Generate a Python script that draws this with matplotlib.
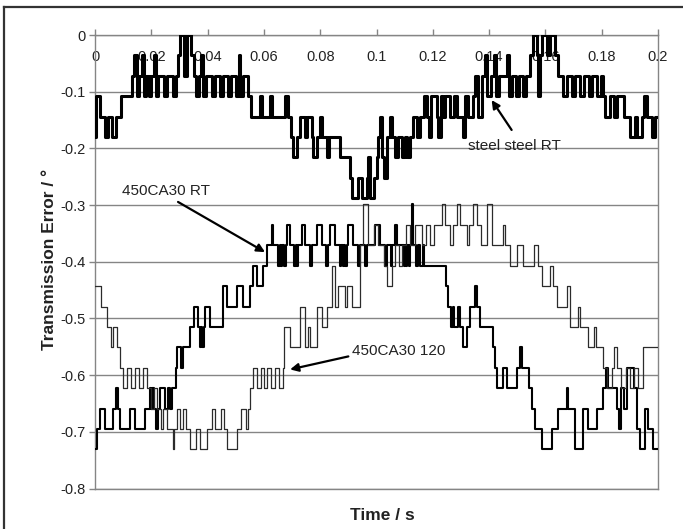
import numpy as np
import matplotlib
matplotlib.use("Agg")
import matplotlib.pyplot as plt
from matplotlib.lines import Line2D

plt.rcParams['font.family'] = ['Liberation Sans', 'DejaVu Sans']

# encoder step (deg) and level offset of the 450CA30 traces
STEP = 0.036
OFFS = -0.335

# steel steel RT : switch times (ms) and level counts below 0
steel_t = [0, 0.3, 1.8, 3.5, 4.7, 5.9, 7.6, 9.4, 13.0, 13.8, 14.8, 15.6, 16.6, 17.4, 18.2, 19.3,
           20.0, 20.9, 21.5, 22.3, 24.6, 25.6, 27.6, 28.6, 29.6, 30.3, 31.6, 32.6, 34.0, 35.0, 35.8,
           37.0, 37.8, 38.5, 39.5, 41.5, 42.5, 44.5, 45.5, 47.2, 48.2, 50.0, 51.0, 51.6, 52.6, 54.5,
           55.5, 58.5, 59.5, 62.0, 63.0, 67.5, 68.5, 69.7, 70.4, 71.6, 72.8, 74.6, 75.2, 77.0, 77.6,
           78.8, 79.9, 80.8, 82.5, 83.2, 87.0, 90.6, 91.2, 93.6, 94.8, 96.5, 97.1, 97.8, 99.0, 100.1,
           100.7, 101.3, 101.9, 102.5, 103.6, 104.8, 105.4, 106.6, 107.8, 109.0, 110.0, 111.0, 112.0,
           113.1, 114.5, 115.5, 116.8, 118.0, 118.6, 119.4, 121.4, 121.8, 122.8, 123.6, 124.5, 126.2,
           127.4, 128.5, 130.7, 131.6, 132.4, 133.2, 134.4, 135.0, 136.2, 137.4, 138.5, 139.3, 140.6,
           141.8, 142.4, 143.6, 146.3, 147.0, 148.2, 149.4, 150.6, 152.0, 153.0, 154.5, 155.7, 156.9,
           157.5, 158.0, 158.7, 160.5, 161.7, 163.4, 164.6, 166.4, 167.6, 169.4, 170.6, 172.4, 173.6,
           175.4, 176.6, 178.4, 179.6, 180.6, 181.2, 183.0, 184.2, 185.4, 187.8, 190.1, 191.9, 192.5,
           194.3, 194.9, 196.0, 197.8, 199.0, 200.0]
steel_k = [5, 3, 4, 5, 4, 5, 4, 3, 2, 1, 3, 2, 1, 3, 2, 3,
           2, 1, 3, 2, 3, 2, 3, 2, 1, 0, 2, 0, 1, 2, 3,
           2, 1, 3, 2, 3, 2, 3, 2, 3, 2, 3, 1, 3, 2, 3,
           4, 3, 4, 3, 4, 3, 4, 5, 6, 5, 4, 5, 4, 5, 6,
           5, 4, 5, 6, 5, 6, 7, 8, 7, 8, 7, 6, 8, 7, 6,
           5, 4, 6, 7, 5, 4, 5, 6, 5, 6, 5, 6, 5,
           4, 5, 4, 3, 4, 5, 3, 4, 5, 3, 4, 3, 4,
           3, 4, 5, 3, 4, 4, 3, 2, 4, 2, 1, 3, 2,
           1, 3, 2, 1, 3, 2, 3, 2, 3, 2, 1, 0, 1,
           3, 1, 0, 1, 0, 1, 2, 3, 2, 3, 2, 3, 2,
           3, 2, 3, 2, 3, 4, 3, 4, 3, 4, 5, 4, 5,
           4, 3, 4, 5, 4, 4]

# 450CA30 RT
rt_t = [0, 0.6, 1.8, 3.6, 6.5, 7.3, 8.3, 8.9, 12.4, 14.2, 17.8, 19.4, 19.9, 20.4, 21.0, 21.6,
        22.4, 23.2, 24.7, 25.8, 26.5, 27.2, 28.6, 29.0, 30.6, 31.4, 33.7, 35.0, 36.7, 37.2, 37.7,
        38.1, 38.6, 39.1, 40.9, 45.6, 46.8, 50.3, 52.7, 55.1, 56.2, 57.4, 59.8, 61.0, 62.8, 63.4,
        65.1, 65.6, 66.1, 66.6, 67.2, 67.8, 68.2, 69.3, 70.8, 71.3, 71.7, 72.2, 73.4, 74.6, 76.5,
        77.1, 78.8, 80.6, 82.0, 82.6, 83.5, 85.3, 87.0, 87.4, 88.0, 88.4, 88.8, 89.4, 90.0, 91.8,
        93.5, 94.0, 96.0, 96.6, 99.5, 101.3, 103.0, 103.6, 105.0, 105.5, 106.5, 107.3, 109.6, 110.0,
        110.5, 110.9, 111.4, 112.0, 112.5, 113.0, 114.0, 114.6, 115.6, 116.4, 117.0, 124.8, 125.4,
        126.6, 127.0, 127.4, 128.9, 129.5, 130.8, 132.0, 133.2, 135.0, 135.6, 136.8, 141.5, 142.1,
        142.7, 145.1, 146.3, 149.8, 151.0, 151.6, 154.0, 155.1, 156.3, 158.7, 162.2, 164.6, 167.5,
        168.1, 170.5, 173.5, 175.0, 178.2, 180.6, 181.4, 182.2, 185.4, 186.2, 186.8, 188.0, 189.0,
        191.3, 192.5, 193.7, 195.4, 196.6, 198.4, 200.0]
rt_m = [11, 10, 9, 10, 9, 8, 9, 10, 9, 10, 9, 8, 9, 8, 9, 10,
        9, 8, 9, 8, 9, 8, 7, 6, 7, 6, 5, 4, 5, 6, 5,
        6, 5, 4, 5, 3, 4, 3, 4, 3, 2, 3, 2, 1, 0, 1,
        2, 1, 2, 1, 2, 1, 0, 1, 2, 1, 2, 1, 0, 1, 2,
        1, 0, 1, 2, 1, 0, 1, 2, 1, 2, 1, 2, 1, 0, 1,
        2, 1, 2, 1, 0, 1, 2, 1, 2, 1, 0, 1, 2, 1,
        2, 1, 2, 1, -1, 1, 2, 1, 2, 1, 2, 3, 4,
        5, 4, 5, 4, 5, 6, 5, 4, 3, 4, 5, 6, 7,
        8, 7, 8, 7, 6, 7, 8, 9, 10, 11, 10, 9, 8,
        9, 11, 9, 10, 9, 8, 7, 8, 9, 10, 8, 9, 7,
        8, 10, 11, 9, 10, 11, 11]

# 450CA30 120
hot_t = [0, 2.3, 4.2, 5.8, 6.5, 7.7, 8.9, 10.1, 11.4, 12.8, 14.2, 15.6, 17.2, 18.6, 19.8, 21.0,
         22.0, 23.3, 24.3, 25.4, 27.6, 28.2, 29.2, 30.2, 31.4, 32.4, 33.6, 36.0, 37.4, 39.8, 41.5,
         42.8, 44.8, 46.0, 46.8, 50.3, 51.8, 53.6, 54.2, 54.9, 56.0, 57.4, 59.0, 60.2, 61.2, 62.6,
         64.0, 65.2, 66.8, 67.3, 69.3, 72.8, 74.6, 75.8, 76.4, 78.8, 80.6, 82.3, 84.1, 85.3, 86.5,
         88.9, 89.5, 91.2, 94.2, 95.3, 97.1, 99.0, 100.6, 102.5, 103.6, 105.4, 106.6, 108.0, 109.0,
         110.5, 111.8, 113.7, 116.0, 117.5, 119.0, 120.5, 123.1, 124.3, 126.0, 127.0, 128.5, 129.7,
         132.0, 133.0, 134.4, 135.6, 137.0, 139.1, 140.9, 145.1, 145.8, 147.4, 149.9, 152.2, 155.8,
         157.5, 158.7, 161.7, 162.8, 164.0, 167.6, 168.8, 171.7, 172.3, 175.3, 177.1, 178.0, 180.6,
         182.0, 183.6, 184.4, 185.4, 187.0, 188.5, 190.1, 191.5, 193.0, 194.8, 200.0]
hot_m = [3, 4, 5, 6, 5, 6, 7, 8, 7, 8, 7, 8, 7, 8, 9, 8,
         9, 10, 9, 10, 11, 10, 9, 10, 9, 10, 11, 10, 11, 10, 9,
         10, 9, 10, 11, 10, 9, 10, 9, 8, 7, 8, 7, 8, 7, 8,
         7, 8, 7, 5, 6, 4, 6, 5, 6, 4, 5, 4, 2, 4, 3,
         4, 3, 4, 1, -1, 1, 0, 1, 2, 3, 2, 1, 2, 1,
         0, 1, 0, 1, 0, 1, 0, -1, 0, 1, 0, -1, 0,
         1, 0, -1, 0, 1, -1, 1, 0, 1, 2, 1, 2, 1,
         2, 3, 2, 3, 4, 3, 5, 4, 5, 6, 5, 6, 7,
         8, 7, 6, 7, 8, 7, 8, 7, 8, 6, 6]

xticks = [0, 0.02, 0.04, 0.06, 0.08, 0.1, 0.12, 0.14, 0.16, 0.18, 0.2]
xticklabels = ['0', '0.02', '0.04', '0.06', '0.08', '0.1', '0.12', '0.14', '0.16', '0.18', '0.2']
yticks = [-0.8, -0.7, -0.6, -0.5, -0.4, -0.3, -0.2, -0.1, 0]
yticklabels = ['-0.8', '-0.7', '-0.6', '-0.5', '-0.4', '-0.3', '-0.2', '-0.1', '0']

steel_x = np.array(steel_t) / 1000
steel_y = -STEP * np.array(steel_k)
rt_x = np.array(rt_t) / 1000
rt_y = OFFS - STEP * np.array(rt_m)
hot_x = np.array(hot_t) / 1000
hot_y = OFFS - STEP * np.array(hot_m)

fig = plt.figure(figsize=(6.83, 5.29), dpi=100)
ax = fig.add_axes([95 / 683, 40.5 / 529, 563 / 683, 453.5 / 529])

gray = '#858585'
ax.step(steel_x, steel_y, where='post', color='black', lw=2.2, zorder=3)
ax.step(rt_x, rt_y, where='post', color='black', lw=1.5, zorder=4)
ax.step(hot_x, hot_y, where='post', color='#2b2b2b', lw=0.9, zorder=5)

ax.set_xlim(0, 0.2)
ax.set_ylim(-0.8, 0)
ax.set_xticks(xticks)
ax.set_xticklabels(xticklabels)
ax.set_yticks(yticks)
ax.set_yticklabels(yticklabels)
ax.yaxis.grid(True, color=gray, lw=1.0)
ax.set_axisbelow(True)
for s in ax.spines.values():
    s.set_color(gray)
    s.set_linewidth(1.0)

ax.xaxis.set_ticks_position('top')
ax.tick_params(axis='x', direction='out', length=4, width=1, color=gray,
               labeltop=True, labelbottom=False, pad=-25, labelsize=10.5, labelcolor='#222222')
ax.tick_params(axis='y', direction='out', length=4, width=1, color=gray,
               pad=3, labelsize=10.5, labelcolor='#222222')

ax.set_ylabel('Transmission Error / \u00b0', fontsize=12.5, fontweight='bold', color='#222222')
ax.yaxis.set_label_coords(-0.068, 0.504)
ax.set_xlabel('Time / s', fontsize=12.5, fontweight='bold', color='#222222')
ax.xaxis.set_label_coords(0.51, -0.043)

arrow = dict(arrowstyle='-|>', color='black', lw=1.6, mutation_scale=12, shrinkA=0, shrinkB=0)
ax.annotate('', xy=(0.1409, -0.1148), xytext=(0.1480, -0.1675), arrowprops=arrow, zorder=6)
ax.text(0.1325, -0.196, 'steel steel RT', fontsize=11, color='#222222', ha='left', va='center')
ax.annotate('', xy=(0.0604, -0.383), xytext=(0.0295, -0.2945), arrowprops=arrow, zorder=6)
ax.text(0.0096, -0.2756, '450CA30 RT', fontsize=11, color='#222222', ha='left', va='center')
ax.annotate('', xy=(0.0693, -0.590), xytext=(0.090, -0.567), arrowprops=arrow, zorder=6)
ax.text(0.0913, -0.5574, '450CA30 120', fontsize=11, color='#222222', ha='left', va='center')

# outer frame (left and top edges visible)
fx = 4 / 683
fy = 1 - 7 / 529
fig.add_artist(Line2D([fx, fx], [0, fy], transform=fig.transFigure, color='#333333', lw=1.6))
fig.add_artist(Line2D([fx, 1], [fy, fy], transform=fig.transFigure, color='#333333', lw=1.6))

fig.savefig('out.png', dpi=100)
